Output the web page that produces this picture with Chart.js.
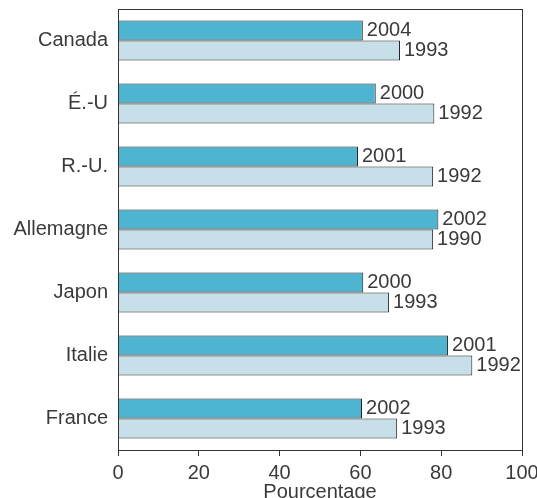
<!DOCTYPE html>
<html>
<head>
<meta charset="utf-8">
<script src="https://cdn.jsdelivr.net/npm/chart.js@4/dist/chart.umd.min.js"></script>
<style>
  html, body { margin: 0; padding: 0; background: #fff; }
  canvas { display: block; }
</style>
</head>
<body>
<canvas id="chartPays" width="537" height="498"></canvas>
<script>
// data
let pays = ["Canada", "É.-U", "R.-U.", "Allemagne", "Japon", "Italie", "France"];
let valeursRecentes = [60.6, 63.8, 59.4, 79.3, 60.7, 81.7, 60.4];
let anneesRecentes = ["2004", "2000", "2001", "2002", "2000", "2001", "2002"];
let valeursAnciennes = [69.8, 78.3, 78.0, 78.0, 67.1, 87.7, 69.1];
let anneesAnciennes = ["1993", "1992", "1992", "1990", "1993", "1992", "1993"];
let ticksX = [0, 20, 40, 60, 80, 100];

let textColor = "#3a3a3a";
let fontFamily = "'Liberation Sans', Arial, sans-serif";

// year next to every bar
let yearLabels = {
  id: "yearLabels",
  afterDatasetsDraw(chart) {
    let ctx = chart.ctx;
    ctx.save();
    ctx.font = "20px " + fontFamily;
    ctx.fillStyle = textColor;
    ctx.textAlign = "left";
    ctx.textBaseline = "middle";
    chart.data.datasets.forEach(function(ds, i) {
      let meta = chart.getDatasetMeta(i);
      meta.data.forEach(function(bar, j) {
        ctx.fillText(ds.years[j], bar.x + 4, bar.y);
      });
    });
    ctx.restore();
  }
};

// frame around the plot
let frame = {
  id: "frame",
  afterDraw(chart) {
    let a = chart.chartArea;
    let ctx = chart.ctx;
    ctx.save();
    ctx.strokeStyle = "#333";
    ctx.lineWidth = 1;
    ctx.strokeRect(Math.round(a.left) + 0.5, Math.round(a.top) + 0.5,
      Math.round(a.right - a.left), Math.round(a.bottom - a.top));
    ctx.restore();
  }
};

let ctx = document.getElementById("chartPays");

let data = {
  labels: pays,
  datasets: [{
    data: valeursRecentes,
    years: anneesRecentes,
    backgroundColor: "#4fb4cf",
    borderColor: "#222",
    borderWidth: 1
  }, {
    data: valeursAnciennes,
    years: anneesAnciennes,
    backgroundColor: "#c6dfe8",
    borderColor: "#222",
    borderWidth: 1
  }]
};

let options = {
  indexAxis: "y",
  responsive: false,
  animation: false,
  devicePixelRatio: 1,
  layout: { padding: { top: 9, right: 15, bottom: 0, left: 0 } },
  categoryPercentage: 0.635,
  barPercentage: 1,
  plugins: {
    legend: { display: false },
    tooltip: { enabled: false }
  },
  scales: {
    x: {
      min: 0,
      max: 100,
      afterBuildTicks: function(scale) {
        scale.ticks = ticksX.map(function(v) { return { value: v }; });
      },
      afterFit: function(scale) {
        scale.height = 48;
        scale.paddingLeft = 0;
        scale.paddingRight = 0;
      },
      grid: {
        drawOnChartArea: false,
        drawTicks: true,
        tickLength: 6,
        color: "#333"
      },
      border: { display: false },
      ticks: {
        padding: 5,
        color: textColor,
        font: { family: fontFamily, size: 20 }
      },
      title: {
        display: true,
        text: "Pourcentage",
        color: textColor,
        padding: 0,
        font: { family: fontFamily, size: 20, lineHeight: 0.55 }
      }
    },
    y: {
      afterFit: function(scale) {
        scale.width = 118;
        scale.paddingTop = 0;
        scale.paddingBottom = 0;
      },
      grid: { display: false, drawTicks: false, tickLength: 0 },
      border: { display: false },
      ticks: {
        padding: 10,
        color: textColor,
        font: { family: fontFamily, size: 20 }
      }
    }
  }
};

let chartPays = new Chart(ctx, {
  type: "bar",
  data: data,
  options: options,
  plugins: [yearLabels, frame]
});
</script>
</body>
</html>
